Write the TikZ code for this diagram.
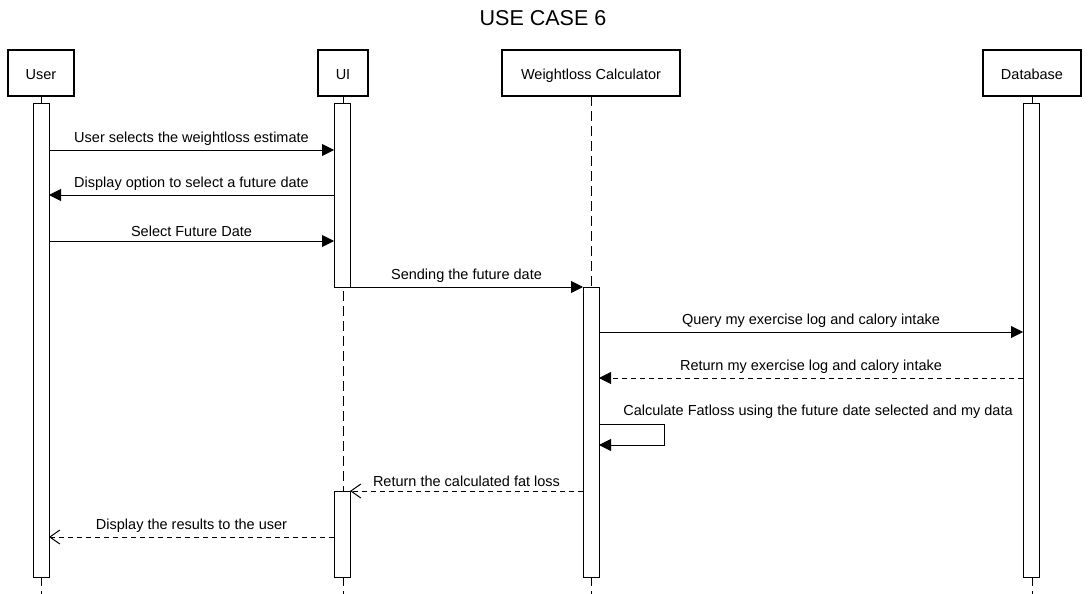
\documentclass[tikz,border=0pt]{standalone}
\usepackage{fontspec}
\setmainfont{Liberation Sans}
\usetikzlibrary{arrows.meta}

\begin{document}
\begin{tikzpicture}[x=1pt,y=-1pt,line width=1pt,font=\fontsize{14.5}{17}\selectfont,
  party/.style={draw,line width=2.5pt,inner sep=0pt,outer sep=0pt,minimum height=46pt,text height=14pt,text depth=0pt},
  bar/.style={draw,fill=white,line width=1pt,inner sep=0pt,outer sep=0pt,minimum width=16pt}]
\tikzstyle{lifeline} = [draw,dash pattern=on 10pt off 5pt]
\tikzstyle{call} = [draw,-{Triangle[length=12pt,width=12pt]}]
\tikzstyle{reply} = [draw,dash pattern=on 5pt off 4pt,-{Straight Barb[length=10pt,width=14pt]}]

\useasboundingbox (0,0) rectangle (1088,594);

\node at (543,18) (title) {\fontsize{21.5}{24}\selectfont USE CASE 6};

% Participants
\node[party,minimum width=66pt]  (user) at (41,73)   {User};
\node[party,minimum width=50pt]  (ui)   at (343,73)  {UI};
\node[party,minimum width=178pt] (calc) at (591,73)  {Weightloss Calculator};
\node[party,minimum width=98pt]  (db)   at (1032,73) {Database};

\coordinate (userend) at (41,594);
\coordinate (uiend)   at (343,594);
\coordinate (calcend) at (591,594);
\coordinate (dbend)   at (1032,594);
\draw[lifeline] (user.south) -- (userend);
\draw[lifeline] (ui.south) -- (uiend);
\draw[lifeline] (calc.south) -- (calcend);
\draw[lifeline] (db.south) -- (dbend);

% Activation bars
\node[bar,minimum height=473pt] (userbar) at (41,340.5)  {};
\node[bar,minimum height=183pt] (uibar)   at (342,195.5) {};
\node[bar,minimum height=86pt]  (uibarb)  at (342,534)   {};
\node[bar,minimum height=290pt] (calcbar) at (591,432)   {};
\node[bar,minimum height=473pt] (dbbar)   at (1031,340.5) {};

% Messages
\draw[call] (userbar.east |- 0,150) -- node[above=1pt] {User selects the weightloss estimate} (uibar.west |- 0,150);
\draw[call] (uibar.west |- 0,195) -- node[above=1pt] {Display option to select a future date} (userbar.east |- 0,195);
\draw[call] (userbar.east |- 0,241) -- node[above=1pt] {Select Future Date} (uibar.west |- 0,241);
\draw[call] (uibar.south east) -- node[above=1pt] {Sending the future date} (calcbar.north west);
\draw[call] (calcbar.east |- 0,332) -- node[above=1pt] {Query my exercise log and calory intake} (dbbar.west |- 0,332);
\draw[call,dash pattern=on 5pt off 4pt] (dbbar.west |- 0,378) -- node[above=1pt] {Return my exercise log and calory intake} (calcbar.east |- 0,378);

% Self call
\draw[call] (calcbar.east |- 0,424) -- (664,424) -- (664,445) -- (calcbar.east |- 0,445);
\node at (818,412) (selflabel) {Calculate Fatloss using the future date selected and my data};

\draw[reply] (calcbar.west |- 0,491) -- node[above=1pt] {Return the calculated fat loss} (uibarb.north east);
\draw[reply] (uibarb.west |- 0,537) -- node[above=1pt] {Display the results to the user} (userbar.east |- 0,537);

\end{tikzpicture}
\end{document}
